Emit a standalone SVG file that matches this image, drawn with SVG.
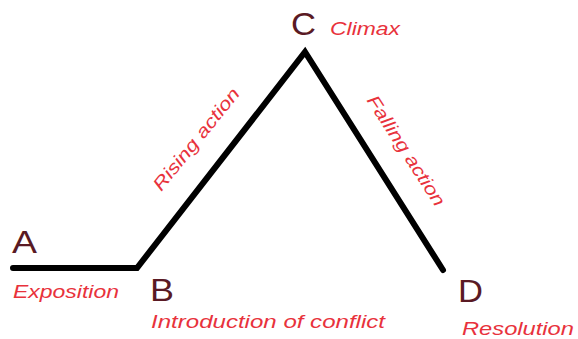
<svg xmlns="http://www.w3.org/2000/svg" width="578" height="339" viewBox="0 0 578 339">
<style>
.bg{fill:#ffffff}
.plot{fill:none;stroke:#000000;stroke-width:6;stroke-linecap:round;stroke-linejoin:miter}
.letter{font-family:"Liberation Sans",Arial,sans-serif;font-size:31px;fill:#5a1a24}
.label{font-family:"Liberation Sans",Arial,sans-serif;font-size:18px;font-style:italic;fill:#e8323c}
</style>
<rect class="bg" x="0" y="0" width="578" height="339"/>
<g id="connectors">
<path class="plot" d="M13 268 L137 268 L305 52 L443 270"/>
<text class="label" text-anchor="middle" textLength="126" lengthAdjust="spacingAndGlyphs" transform="translate(201,143) rotate(-51)">Rising action</text>
<text class="label" text-anchor="middle" textLength="128" lengthAdjust="spacingAndGlyphs" transform="translate(401,154) rotate(57)">Falling action</text>
</g>
<g id="node-A">
<text class="letter" x="12" y="253" textLength="25" lengthAdjust="spacingAndGlyphs">A</text>
<text class="label" x="13" y="298" textLength="106" lengthAdjust="spacingAndGlyphs">Exposition</text>
</g>
<g id="node-B">
<text class="letter" x="150" y="301" textLength="24" lengthAdjust="spacingAndGlyphs">B</text>
<text class="label" x="151" y="328" textLength="234" lengthAdjust="spacingAndGlyphs">Introduction of conflict</text>
</g>
<g id="node-C">
<text class="letter" x="291" y="35" textLength="25" lengthAdjust="spacingAndGlyphs">C</text>
<text class="label" x="330" y="35" textLength="70" lengthAdjust="spacingAndGlyphs">Climax</text>
</g>
<g id="node-D">
<text class="letter" x="458" y="302" textLength="25" lengthAdjust="spacingAndGlyphs">D</text>
<text class="label" x="462" y="335" textLength="112" lengthAdjust="spacingAndGlyphs">Resolution</text>
</g>
</svg>
